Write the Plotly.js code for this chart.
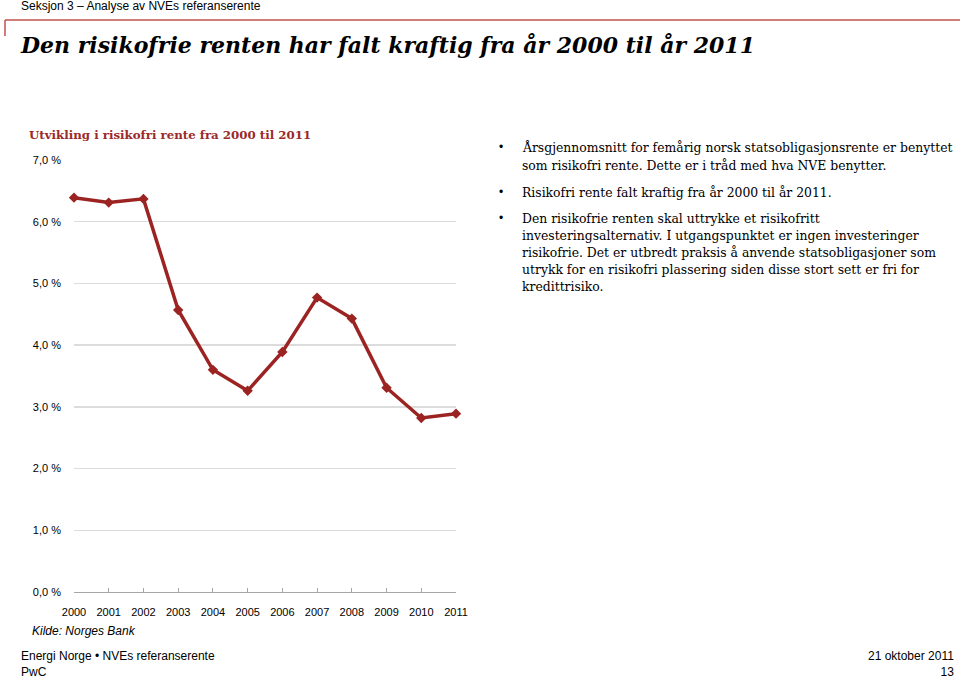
<!DOCTYPE html>
<html>
<head>
<meta charset="utf-8">
<script src="https://cdn.plot.ly/plotly-3.0.1.min.js"></script>
<style>html,body{margin:0;padding:0;background:#fff;}#chart{width:960px;height:680px;}</style>
</head>
<body>
<div id="chart"></div>
<script>
const years = ['2000','2001','2002','2003','2004','2005','2006','2007','2008','2009','2010','2011'];
const rente = [6.39, 6.31, 6.37, 4.57, 3.60, 3.26, 3.89, 4.77, 4.43, 3.31, 2.82, 2.89];
const yTicks = [0,1,2,3,4,5,6,7];
const yTickLabels = ['0,0 %','1,0 %','2,0 %','3,0 %','4,0 %','5,0 %','6,0 %','7,0 %'];

const header = 'Seksjon 3 – Analyse av NVEs referanserente';
const mainTitle = 'Den risikofrie renten har falt kraftig fra år 2000 til år 2011';
const chartTitle = 'Utvikling i risikofri rente fra 2000 til 2011';
const source = 'Kilde: Norges Bank';
const bullets = [
  ['Årsgjennomsnitt for femårig norsk statsobligasjonsrente er benyttet',
   'som risikofri rente. Dette er i tråd med hva NVE benytter.'],
  ['Risikofri rente falt kraftig fra år 2000 til år 2011.'],
  ['Den risikofrie renten skal uttrykke et risikofritt',
   'investeringsalternativ. I utgangspunktet er ingen investeringer',
   'risikofrie. Det er utbredt praksis å anvende statsobligasjoner som',
   'utrykk for en risikofri plassering siden disse stort sett er fri for',
   'kredittrisiko.']
];
const footerLeft = ['Energi Norge • NVEs referanserente', 'PwC'];
const footerRight = ['21 oktober 2011', '13'];

const L = 74, R = 504, T = 160, B = 88, W = 960 - L - R, H = 680 - T - B;
const px = x => (x - L) / W;
const py = y => 1 - (y - T) / H;

const ann = [];
function txt(text, x, y, opts) {
  ann.push(Object.assign({
    text: text, xref: 'paper', yref: 'paper', x: px(x), y: py(y),
    xanchor: 'left', yanchor: 'middle', showarrow: false,
    font: {family: 'Arial, Liberation Sans, sans-serif', size: 12, color: '#000'}
  }, opts || {}));
}
txt(header, 19, 6, {font: {family: 'Arial, Liberation Sans', size: 12, color: '#000'}});
txt('<b><i>' + mainTitle + '</i></b>', 18, 45, {font: {family: 'DejaVu Serif', size: 22, color: '#000'}});
txt('<b>' + chartTitle + '</b>', 27, 135, {font: {family: 'DejaVu Serif', size: 11.8, color: '#9b2a2a'}});
txt('<i>' + source + '</i>', 30, 631, {font: {family: 'Arial, Liberation Sans', size: 12, color: '#000'}});
txt(footerLeft.join('<br>'), 20, 664, {align: 'left', borderpad: 0, font: {family: 'Arial, Liberation Sans', size: 12, color: '#000'}});
txt(footerRight.join('<br>'), 955, 664, {xanchor: 'right', align: 'right', borderpad: 0, font: {family: 'Arial, Liberation Sans', size: 12, color: '#000'}});

const lineY = [[147, 165], [192], [218, 235, 252, 269, 286]];
bullets.forEach((b, i) => {
  txt('•', 497, lineY[i][0], {font: {family: 'Arial, Liberation Sans', size: 12, color: '#000'}});
  b.forEach((line, j) => {
    txt(line, 520, lineY[i][j], {font: {family: 'DejaVu Serif', size: 12.4, color: '#000'}});
  });
});

const shapes = [
  {type: 'line', xref: 'paper', yref: 'paper', x0: px(5), x1: px(960), y0: py(20), y1: py(20), line: {color: '#c0504d', width: 1.5}},
  {type: 'line', xref: 'paper', yref: 'paper', x0: px(5), x1: px(5), y0: py(20), y1: py(36), line: {color: '#c0504d', width: 1.5}}
];

const trace = {
  x: years.map(Number), y: rente, type: 'scatter', mode: 'lines+markers',
  line: {color: '#9b2423', width: 3.5},
  marker: {symbol: 'diamond', size: 8, color: '#9b2423'},
  hoverinfo: 'skip', cliponaxis: false
};

const layout = {
  width: 960, height: 680,
  margin: {l: L, r: R, t: T, b: B, pad: 0},
  paper_bgcolor: '#fff', plot_bgcolor: '#fff',
  showlegend: false,
  xaxis: {
    range: [2000, 2011], tickmode: 'array', tickvals: years.map(Number), ticktext: years,
    showgrid: false, zeroline: false, showline: true, linecolor: '#a6a6a6', linewidth: 1,
    ticks: 'inside', ticklen: 4, tickcolor: '#a6a6a6', ticklabelstandoff: 10,
    tickfont: {family: 'Arial, Liberation Sans', size: 11, color: '#000'}, fixedrange: true
  },
  yaxis: {
    range: [0, 7], tickmode: 'array', tickvals: yTicks, ticktext: yTickLabels,
    showgrid: true, gridcolor: '#dcdcdc', gridwidth: 1.5, zeroline: false, showline: false,
    ticks: '', ticklabelstandoff: 12,
    tickfont: {family: 'Arial, Liberation Sans', size: 11, color: '#000'}, fixedrange: true
  },
  annotations: ann, shapes: shapes
};

Plotly.newPlot('chart', [trace], layout, {displayModeBar: false, staticPlot: true});
</script>
</body>
</html>
